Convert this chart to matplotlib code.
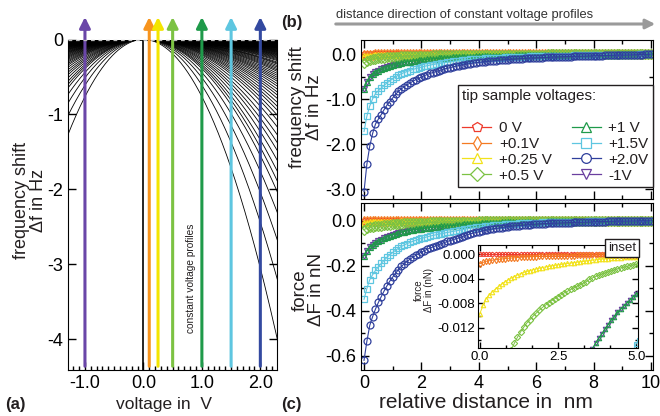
import numpy as np
import matplotlib.pyplot as plt
from matplotlib.lines import Line2D
from matplotlib.patches import FancyArrowPatch
from matplotlib.ticker import MultipleLocator, FormatStrFormatter

plt.rcParams['font.family'] = ['Liberation Sans', 'DejaVu Sans']
plt.rcParams['axes.unicode_minus'] = False
plt.rcParams['text.color'] = '#231f20'

# -----------------------------------
# Data
# -----------------------------------

# relative tip-sample distance in nm, one point every 0.1 nm
distance = np.linspace(0, 10, 101)

# frequency shift at +2.0 V in Hz (panel b, blue circles)
df_2v = [-3.05, -2.44, -2.04, -1.76, -1.55, -1.44, -1.34, -1.23, -1.13, -1.05,
         -0.97, -0.89, -0.82, -0.77, -0.72, -0.68, -0.64, -0.60, -0.565, -0.535,
         -0.505, -0.475, -0.45, -0.425, -0.405, -0.385, -0.365, -0.345, -0.325, -0.31,
         -0.295, -0.28, -0.265, -0.25, -0.24, -0.23, -0.215, -0.205, -0.195, -0.186,
         -0.178, -0.170, -0.163, -0.156, -0.150, -0.144, -0.138, -0.132, -0.127, -0.122,
         -0.117, -0.112, -0.108, -0.104, -0.100, -0.096, -0.092, -0.088, -0.085, -0.082,
         -0.079, -0.076, -0.073, -0.070, -0.067, -0.065, -0.062, -0.060, -0.057, -0.055,
         -0.053, -0.051, -0.049, -0.047, -0.045, -0.043, -0.041, -0.039, -0.037, -0.035,
         -0.033, -0.031, -0.030, -0.028, -0.026, -0.025, -0.023, -0.021, -0.020, -0.018,
         -0.016, -0.015, -0.013, -0.011, -0.010, -0.008, -0.006, -0.005, -0.003, -0.002,
         0.0]

# force at +2.0 V in nN (panel c, blue circles)
f_2v = [-0.620, -0.535, -0.465, -0.426, -0.392, -0.363, -0.337, -0.312, -0.289, -0.268,
        -0.250, -0.233, -0.217, -0.203, -0.191, -0.180, -0.171, -0.162, -0.154, -0.146,
        -0.139, -0.133, -0.127, -0.121, -0.116, -0.111, -0.106, -0.101, -0.097, -0.092,
        -0.088, -0.084, -0.080, -0.076, -0.072, -0.066, -0.062, -0.058, -0.055, -0.052,
        -0.049, -0.046, -0.043, -0.041, -0.038, -0.036, -0.034, -0.032, -0.030, -0.028,
        -0.026, -0.025, -0.023, -0.022, -0.021, -0.020, -0.019, -0.018, -0.017, -0.016,
        -0.015, -0.014, -0.0135, -0.013, -0.012, -0.0115, -0.011, -0.0105, -0.010, -0.0095,
        -0.009, -0.0085, -0.008, -0.0075, -0.007, -0.0066, -0.0062, -0.0058, -0.0054, -0.005,
        -0.0046, -0.0042, -0.0038, -0.0035, -0.0032, -0.0029, -0.0026, -0.0023, -0.002, -0.0018,
        -0.0016, -0.0014, -0.0012, -0.001, -0.0008, -0.0006, -0.0005, -0.0003, -0.0002, -0.0001,
        0.0]

# tip sample voltages, legend labels, colours, markers
voltages = [0.0, 0.1, 0.25, 0.5, 1.0, 1.5, 2.0, -1.0]
labels = ['0 V', '+0.1V', '+0.25 V', '+0.5 V', '+1 V', '+1.5V', '+2.0V', '-1V']
colors = ['#ee3a2c', '#f47a22', '#f2e21b', '#7cc243', '#1f9a4a', '#5ec6e0', '#2f3f9c', '#6a3f9f']
markers = ['p', 'd', '^', 'D', '^', 's', 'o', 'v']

# arrows in panel (a): constant voltage profiles
arrow_volts = [-1.0, 0.1, 0.25, 0.5, 1.0, 1.5, 2.0]
arrow_colors = ['#6a46a8', '#f7941d', '#f3e500', '#7cc243', '#1f9a4a', '#5ec6e0', '#3349a0']

df_2v = np.array(df_2v)
f_2v = np.array(f_2v)

# the signal scales with the square of the voltage (parabolas of panel a)
def scaled(base, v):
    return base * (v / 2.0) ** 2

W, H = 660, 416
fig = plt.figure(figsize=(6.6, 4.16), dpi=100)

def box(l, t, r, b):
    return [l / W, 1 - b / H, (r - l) / W, (b - t) / H]

# -----------------------------------
# Panel (a): frequency shift vs voltage
# -----------------------------------

ax_a = fig.add_axes(box(68, 39.5, 277, 370))
v_grid = np.linspace(-1.3, 2.3, 300)
for d in df_2v:
    curv = -d / 4.0
    ax_a.plot(v_grid, -curv * v_grid ** 2, color='black', lw=0.6)

ax_a.axvline(0.0, color='black', lw=1.2)
ax_a.axhline(0.0, color='#bbbbbb', lw=0.9, ls=(0, (3, 3)), clip_on=False, zorder=5)

for v, c in zip(arrow_volts, arrow_colors):
    ax_a.annotate('', xy=(v, 1.068), xycoords=('data', 'axes fraction'),
                  xytext=(v, -4.36), textcoords='data',
                  arrowprops=dict(arrowstyle='-|>', color=c, lw=2.2,
                                  mutation_scale=16, shrinkA=0, shrinkB=0),
                  annotation_clip=False)

ax_a.text(0.81, -3.18, 'constant voltage profiles', rotation=90, fontsize=7.3,
          ha='center', va='center')

ax_a.set_xlim(-1.29, 2.285)
ax_a.set_ylim(-4.41, 0.0)
ax_a.xaxis.set_major_locator(MultipleLocator(1.0))
ax_a.xaxis.set_minor_locator(MultipleLocator(0.1))
ax_a.xaxis.set_major_formatter(FormatStrFormatter('%.1f'))
ax_a.yaxis.set_major_locator(MultipleLocator(1.0))
ax_a.yaxis.set_major_formatter(FormatStrFormatter('%d'))
ax_a.tick_params(which='both', direction='in', top=False, right=True, labelsize=13, width=1)
ax_a.tick_params(which='major', length=6)
ax_a.tick_params(which='minor', length=3)
ax_a.spines['top'].set_visible(False)

# -----------------------------------
# Panels (b) and (c): vs distance
# -----------------------------------

ax_b = fig.add_axes(box(361, 40, 653, 199))
ax_c = fig.add_axes(box(361, 203, 653, 370))

order = [7, 0, 1, 2, 3, 4, 5, 6]
for i in order:
    ax_b.plot(distance, scaled(df_2v, voltages[i]), color=colors[i], marker=markers[i],
              ms=5, mfc='none', mew=0.9, lw=0.8)
    ax_c.plot(distance, scaled(f_2v, voltages[i]), color=colors[i], marker=markers[i],
              ms=5, mfc='none', mew=0.9, lw=0.8)

ax_b.set_ylim(-3.216, 0.318)
ax_b.yaxis.set_major_locator(MultipleLocator(1.0))
ax_b.yaxis.set_minor_locator(MultipleLocator(0.5))
ax_b.yaxis.set_major_formatter(FormatStrFormatter('%.1f'))

ax_c.set_ylim(-0.663, 0.079)
ax_c.yaxis.set_major_locator(MultipleLocator(0.2))
ax_c.yaxis.set_minor_locator(MultipleLocator(0.1))
ax_c.yaxis.set_major_formatter(FormatStrFormatter('%.1f'))

for ax in (ax_b, ax_c):
    ax.set_xlim(-0.105, 10.07)
    ax.xaxis.set_major_locator(MultipleLocator(2))
    ax.xaxis.set_minor_locator(MultipleLocator(1))
    ax.tick_params(which='both', direction='in', top=True, right=True, labelsize=13, width=1)
    ax.tick_params(which='major', length=6)
    ax.tick_params(which='minor', length=3)
ax_b.tick_params(labelbottom=False)

handles = []
for i in range(8):
    handles.append(Line2D([], [], color=colors[i], marker=markers[i], ms=7,
                          mfc='white', mew=0.9, lw=0.9))
leg = ax_b.legend(handles, labels, ncol=2, title='tip sample voltages:\n',
                  alignment='left', fontsize=11, title_fontsize=11,
                  loc='upper right', bbox_to_anchor=(1.0, 0.72), borderaxespad=0,
                  frameon=True, fancybox=False, framealpha=1, edgecolor='#231f20',
                  handlelength=1.9, handletextpad=0.5, columnspacing=1.3,
                  labelspacing=0.12, borderpad=0.3)
leg.get_frame().set_linewidth(1.0)

# -----------------------------------
# Inset in panel (c)
# -----------------------------------

ax_in = fig.add_axes(box(478, 245, 638, 348))
for i in order:
    ax_in.plot(distance, scaled(f_2v, voltages[i]), color=colors[i], marker=markers[i],
               ms=3.2, mfc='none', mew=0.8, lw=0.7)
ax_in.set_xlim(-0.06, 5.06)
ax_in.set_ylim(-0.0153, 0.0015)
ax_in.xaxis.set_major_locator(MultipleLocator(2.5))
ax_in.xaxis.set_minor_locator(MultipleLocator(2.5 / 3))
ax_in.xaxis.set_major_formatter(FormatStrFormatter('%.1f'))
ax_in.yaxis.set_major_locator(MultipleLocator(0.004))
ax_in.yaxis.set_minor_locator(MultipleLocator(0.002))
ax_in.yaxis.set_major_formatter(FormatStrFormatter('%.3f'))
ax_in.tick_params(which='both', direction='in', top=True, right=True, labelsize=9.5, width=1,
                  pad=2)
ax_in.tick_params(which='major', length=4)
ax_in.tick_params(which='minor', length=2.5)

fig.text(424 / W, 1 - 290 / H, 'force\n\u0394F in (nN)', rotation=90, fontsize=7,
         ha='center', va='center', multialignment='center', linespacing=1.1)
fig.text(622 / W, 1 - 248 / H, 'inset', fontsize=9.5, ha='center', va='center', zorder=10,
         bbox=dict(boxstyle='square,pad=0.2', fc='white', ec='#231f20', lw=1))

# -----------------------------------
# Labels, arrow, panel letters
# -----------------------------------

fig.text(30 / W, 1 - 200 / H, 'frequency shift\n\u0394f in Hz', rotation=90, fontsize=13,
         ha='center', va='center', multialignment='center', linespacing=1.05)
fig.text(164 / W, 1 - 404 / H, 'voltage in  V', fontsize=12.5, ha='center', va='center')

fig.text(306 / W, 1 - 107 / H, 'frequency shift\n\u0394f in Hz', rotation=90, fontsize=13.5,
         ha='center', va='center', multialignment='center', linespacing=0.95)
fig.text(308 / W, 1 - 290 / H, 'force\n\u0394F in nN', rotation=90, fontsize=13.5,
         ha='center', va='center', multialignment='center', linespacing=0.95)
fig.text(486 / W, 1 - 403 / H, 'relative distance in  nm', fontsize=15,
         ha='center', va='center')

fig.text(336 / W, 1 - 15 / H, 'distance direction of constant voltage profiles',
         fontsize=9.3, ha='left', va='center', color='#333333')
fig.patches.append(FancyArrowPatch(
    (333 / W, 1 - 24 / H), (658 / W, 1 - 24 / H), transform=fig.transFigure,
    arrowstyle='-|>', mutation_scale=14, color='#9a9a9a', lw=2.2))

fig.text(5 / W, 1 - 404 / H, '(a)', fontsize=12, fontweight='bold', ha='left', va='center')
fig.text(281 / W, 1 - 22 / H, '(b)', fontsize=12, fontweight='bold', ha='left', va='center')
fig.text(281 / W, 1 - 404 / H, '(c)', fontsize=12, fontweight='bold', ha='left', va='center')

plt.savefig('out.png', dpi=100)
